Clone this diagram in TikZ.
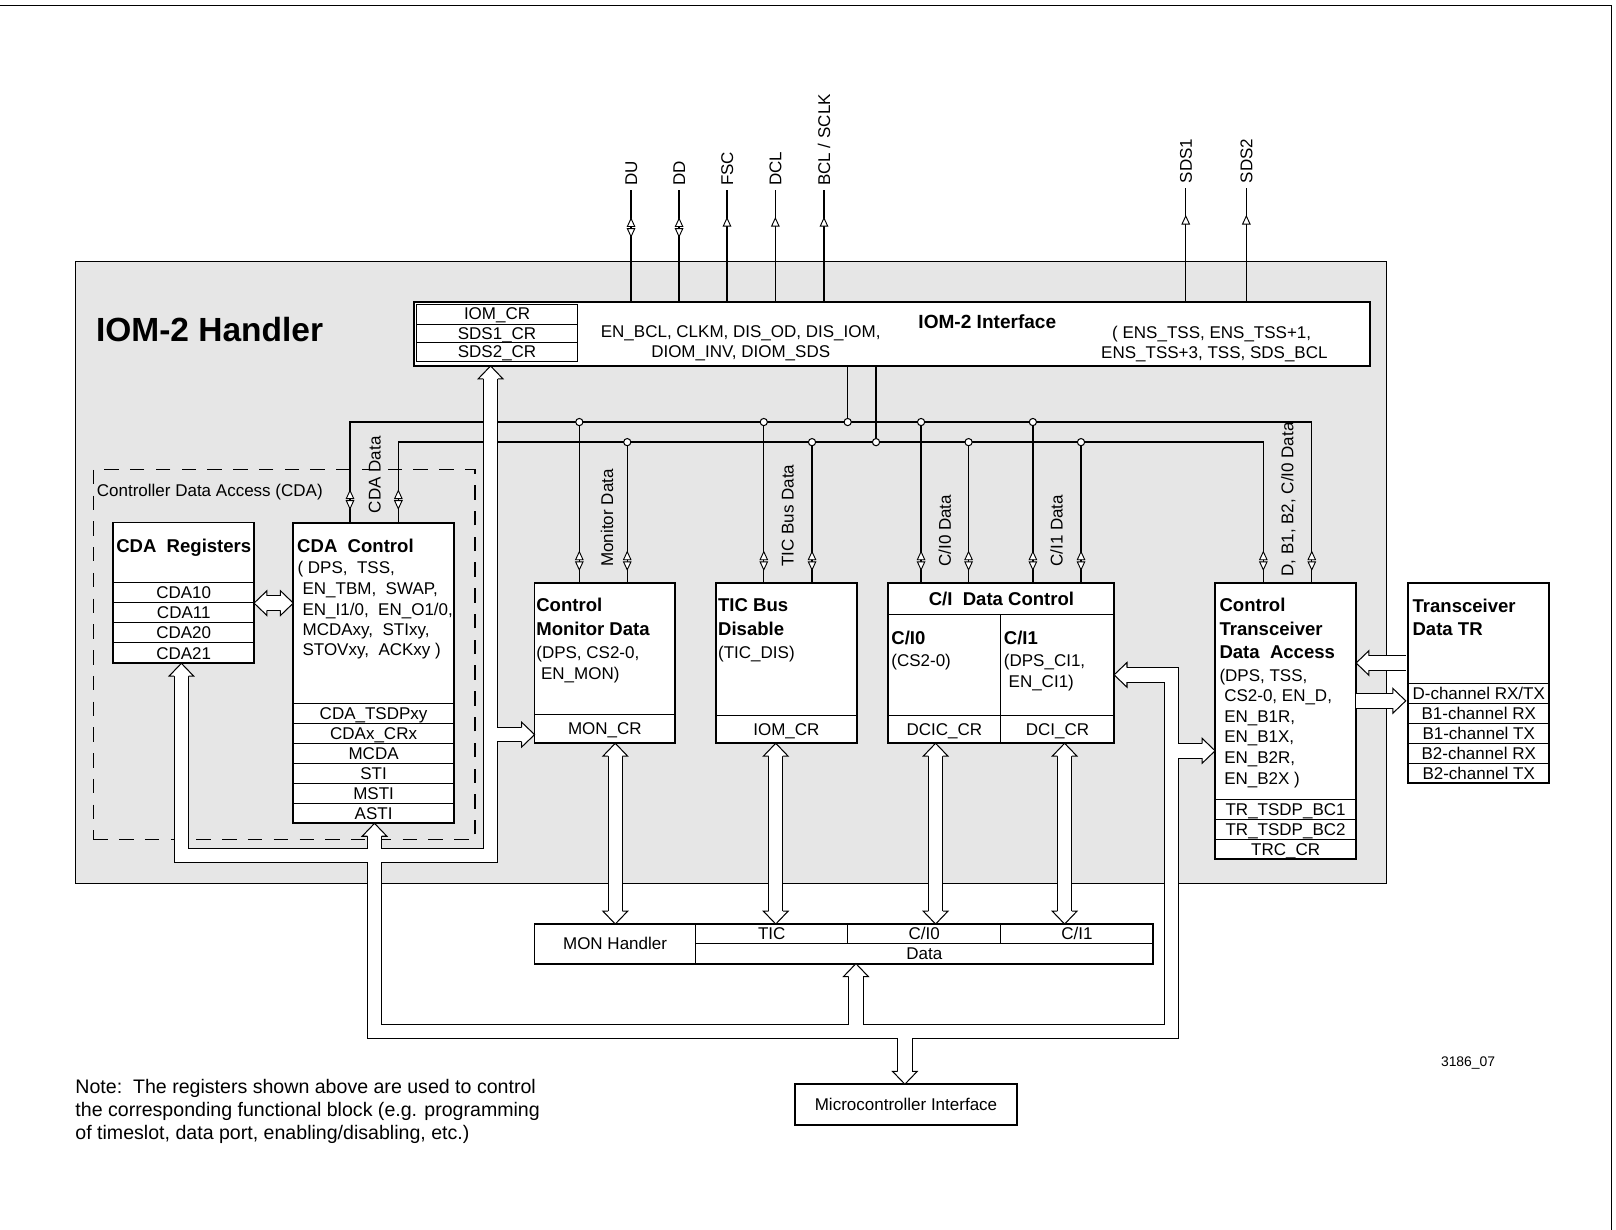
\documentclass[tikz,border=0pt]{standalone}
\usepackage{fontspec}
\setmainfont{Liberation Sans}
\definecolor{lgray}{RGB}{230,230,230}
\tikzset{
 txt/.style={font=\fontsize{16.5}{20}\selectfont, inner sep=0pt, anchor=base west},
 ctr/.style={font=\fontsize{16.5}{20}\selectfont, inner sep=0pt, anchor=base},
 ttl/.style={font=\fontsize{18}{22}\selectfont\bfseries, inner sep=0pt, anchor=base west},
 blk/.style={draw, fill=white, line width=1.7pt},
 cell/.style={line width=1pt},
 sig/.style={line width=1.3pt},
 mk/.style={draw, fill=white, line width=0.9pt, line join=miter},
 hollow/.style={draw=black, line width=1pt, double=white, double distance=13pt, line join=miter},
 hd/.style={draw=black, fill=white, line width=1pt, line join=miter},
 jn/.style={circle, draw, fill=white, line width=1pt, inner sep=0pt, minimum size=7pt},
}
\newcommand\bx[6]{%
 \pgfmathsetmacro\myBW{#4-#2}\pgfmathsetmacro\myBH{#5-#3}%
 \pgfmathsetmacro\myCX{(#2+#4)/2}\pgfmathsetmacro\myCY{(#3+#5)/2}%
 \node[#6, inner sep=0pt, outer sep=0pt, minimum width=\myBW pt, minimum height=\myBH pt] (#1) at (\myCX,\myCY) {};}
% hollow arrow heads (tip at #1,#2)
\newcommand\hU[2]{\filldraw[hd] ({#1-7},{#2+12.5}) -- ({#1-12},{#2+12.5}) -- ({#1},{#2}) -- ({#1+12},{#2+12.5}) -- ({#1+7},{#2+12.5});}
\newcommand\hD[2]{\filldraw[hd] ({#1-7},{#2-12.5}) -- ({#1-12},{#2-12.5}) -- ({#1},{#2}) -- ({#1+12},{#2-12.5}) -- ({#1+7},{#2-12.5});}
\newcommand\hL[2]{\filldraw[hd] ({#1+12.5},{#2-7}) -- ({#1+12.5},{#2-12}) -- ({#1},{#2}) -- ({#1+12.5},{#2+12}) -- ({#1+12.5},{#2+7});}
\newcommand\hR[2]{\filldraw[hd] ({#1-12.5},{#2-7}) -- ({#1-12.5},{#2-12}) -- ({#1},{#2}) -- ({#1-12.5},{#2+12}) -- ({#1-12.5},{#2+7});}
% small markers on thin lines
\newcommand\mU[2]{\filldraw[mk] ({#1},{#2}) -- ({#1-3.6},{#2+7.8}) -- ({#1+3.6},{#2+7.8}) -- cycle;}
\newcommand\mD[2]{\filldraw[mk] ({#1},{#2}) -- ({#1-3.6},{#2-7.8}) -- ({#1+3.6},{#2-7.8}) -- cycle;}
\newcommand\mUD[2]{\mU{#1}{#2}\mD{#1}{#2+17.6}}
\begin{document}
\begin{tikzpicture}[x=1pt,y=-1pt]
\useasboundingbox (0,0) rectangle (1568,1193);
\draw[line width=1pt] (0,5) -- (1564,5) -- (1564,1193);
% handler
\bx{hand}{73}{254}{1345}{857}{draw, fill=lgray, line width=1.3pt}
\node[font=\fontsize{32.5}{38}\selectfont\bfseries, inner sep=0pt, anchor=base west] (title) at (93,331.6) {IOM-2 Handler};
\bx{cda}{90.6}{455.4}{460.9}{814.4}{draw, line width=1.5pt, dash pattern=on 14pt off 11pt}
\node[txt] (cdatxt) at (93.8,482) {Controller Data Access (CDA)};
% IOM-2 interface
\bx{iface}{401.5}{293.3}{1329.3}{355.1}{blk, line width=2.2pt}
\bx{ifreg}{404}{295.5}{560.5}{351}{draw, fill=white, line width=1pt}
\draw[cell] (404,314.4) -- (560.5,314.4) (404,332) -- (560.5,332);
\node[ctr] (r1) at (482.3,309.9) {IOM\_CR};
\node[ctr] (r2) at (482.3,329.3) {SDS1\_CR};
\node[ctr] (r3) at (482.3,346.5) {SDS2\_CR};
\node[ctr] (if1) at (718.7,327.7) {EN\_BCL, CLKM, DIS\_OD, DIS\_IOM,};
\node[ctr] (if2) at (718.7,347.1) {DIOM\_INV, DIOM\_SDS};
\node[font=\fontsize{18.5}{22}\selectfont\bfseries, inner sep=0pt, anchor=base] (ift) at (958,318.6) {IOM-2 Interface};
\node[ctr] (if3) at (1175.7,328.4) {( ENS\_TSS, ENS\_TSS+1,};
\node[ctr] (if4) at (1178.3,347.8) {ENS\_TSS+3, TSS, SDS\_BCL};
% CDA registers
\bx{cdar}{110}{507}{246.5}{643.6}{blk}
\draw[cell] (110,565.4) -- (246.5,565.4) (110,584.8) -- (246.5,584.8) (110,604.2) -- (246.5,604.2) (110,623.6) -- (246.5,623.6);
\node[ttl] (cdart) at (112.6,536.2) {CDA\ \ Registers};
\node[ctr] (c1) at (178.3,581) {CDA10};
\node[ctr] (c2) at (178.3,600.4) {CDA11};
\node[ctr] (c3) at (178.3,619.8) {CDA20};
\node[ctr] (c4) at (178.3,639.5) {CDA21};
% CDA control
\bx{cdac}{284.6}{507.2}{440.5}{798.9}{blk}
\draw[cell] (284.6,682.4) -- (440.5,682.4) (284.6,701.8) -- (440.5,701.8) (284.6,721.2) -- (440.5,721.2)
 (284.6,740.7) -- (440.5,740.7) (284.6,760.1) -- (440.5,760.1) (284.6,779.5) -- (440.5,779.5);
\node[ttl] (cdact) at (288.2,536.2) {CDA\ \ Control};
\node[txt] (cc1) at (288.5,556.7) {( DPS,\ \ TSS,};
\node[txt] (cc2) at (293.4,576.8) {EN\_TBM,\ \ SWAP,};
\node[txt] (cc3) at (293.4,596.9) {EN\_I1/0,\ \ EN\_O1/0,};
\node[txt] (cc4) at (293.4,616.2) {MCDAxy,\ \ STIxy,};
\node[txt] (cc5) at (293.4,636.3) {STOVxy,\ \ ACKxy )};
\node[ctr] (cr1) at (362.5,698) {CDA\_TSDPxy};
\node[ctr] (cr2) at (362.5,717.4) {CDAx\_CRx};
\node[ctr] (cr3) at (362.5,736.9) {MCDA};
\node[ctr] (cr4) at (362.5,756.3) {STI};
\node[ctr] (cr5) at (362.5,775.7) {MSTI};
\node[ctr] (cr6) at (362.5,795.1) {ASTI};
% Control Monitor Data
\bx{mon}{518.7}{565.4}{655}{721.2}{blk}
\draw[cell] (518.7,693.1) -- (655,693.1);
\node[ttl] (mt1) at (520.2,593.4) {Control};
\node[ttl] (mt2) at (520.2,617) {Monitor Data};
\node[txt] (mt3) at (520.2,639.2) {(DPS, CS2-0,};
\node[txt] (mt4) at (524.8,659.3) {EN\_MON)};
\node[ctr] (mt5) at (586.9,713.1) {MON\_CR};
% TIC bus disable
\bx{tic}{694.7}{565.4}{831.4}{721.2}{blk}
\draw[cell] (694.7,694.7) -- (831.4,694.7);
\node[ttl] (tt1) at (696.6,593.4) {TIC Bus};
\node[ttl] (tt2) at (696.6,617) {Disable};
\node[txt] (tt3) at (696.6,639.2) {(TIC\_DIS)};
\node[ctr] (tt4) at (763,713.4) {IOM\_CR};
% C/I data control
\bx{ci}{861.8}{565.4}{1081}{721.2}{blk}
\draw[cell] (861.8,596.1) -- (1081,596.1) (971,596.1) -- (971,721.2) (861.8,693.8) -- (1081,693.8);
\node[font=\fontsize{18}{22}\selectfont\bfseries, inner sep=0pt, anchor=base] (cit) at (971.7,587.6) {C/I\ \ Data Control};
\node[ttl] (ci0t) at (864.7,625) {C/I0};
\node[txt] (ci0a) at (864.7,646.3) {(CS2-0)};
\node[ttl] (ci1t) at (973.9,625) {C/I1};
\node[txt] (ci1a) at (973.9,646.3) {(DPS\_CI1,};
\node[txt] (ci1b) at (978.5,666.7) {EN\_CI1)};
\node[ctr] (ci0r) at (916.4,713.4) {DCIC\_CR};
\node[ctr] (ci1r) at (1026,713.4) {DCI\_CR};
% Control Transceiver Data Access
\bx{ctda}{1179}{565.4}{1315.8}{833.8}{blk}
\draw[cell] (1179,775.6) -- (1315.8,775.6) (1179,795) -- (1315.8,795) (1179,814.4) -- (1315.8,814.4);
\node[ttl] (ct1) at (1183.1,593.4) {Control};
\node[ttl] (ct2) at (1183.1,617) {Transceiver};
\node[ttl] (ct3) at (1183.1,639.4) {Data\ \ Access};
\node[txt] (ct4) at (1183.1,661.2) {(DPS, TSS,};
\node[txt] (ct5) at (1187.7,680.6) {CS2-0, EN\_D,};
\node[txt] (ct6) at (1187.7,700.6) {EN\_B1R,};
\node[txt] (ct7) at (1187.7,720.7) {EN\_B1X,};
\node[txt] (ct8) at (1187.7,740.7) {EN\_B2R,};
\node[txt] (ct9) at (1187.7,760.8) {EN\_B2X )};
\node[ctr] (ctr1) at (1247.4,791.2) {TR\_TSDP\_BC1};
\node[ctr] (ctr2) at (1247.4,810.6) {TR\_TSDP\_BC2};
\node[ctr] (ctr3) at (1247.4,830) {TRC\_CR};
% Transceiver Data TR
\bx{tr}{1366.5}{565.4}{1503}{760}{blk}
\draw[cell] (1366.5,663) -- (1503,663) (1366.5,682.5) -- (1503,682.5) (1366.5,701.8) -- (1503,701.8)
 (1366.5,721.2) -- (1503,721.2) (1366.5,740.6) -- (1503,740.6);
\node[ttl] (trt1) at (1370.4,594.4) {Transceiver};
\node[ttl] (trt2) at (1370.4,617) {Data TR};
\node[ctr] (tr1) at (1434.8,678.7) {D-channel RX/TX};
\node[ctr] (tr2) at (1434.8,698) {B1-channel RX};
\node[ctr] (tr3) at (1434.8,717.4) {B1-channel TX};
\node[ctr] (tr4) at (1434.8,736.8) {B2-channel RX};
\node[ctr] (tr5) at (1434.8,756.2) {B2-channel TX};
% MON handler
\bx{monh}{518.6}{896.6}{1118.8}{935}{blk}
\draw[cell] (674.9,896.6) -- (674.9,935) (674.9,915.7) -- (1118.8,915.7) (822.6,896.6) -- (822.6,915.7) (971,896.6) -- (971,915.7);
\node[ctr] (mh1) at (596.8,921.2) {MON Handler};
\node[ctr] (mh2) at (748.8,911.9) {TIC};
\node[ctr] (mh3) at (896.8,911.9) {C/I0};
\node[ctr] (mh4) at (1044.9,911.9) {C/I1};
\node[ctr] (mh5) at (896.8,931) {Data};
% microcontroller interface
\bx{mc}{771.4}{1052}{986.8}{1091.6}{blk}
\node[ctr] (mct) at (879.1,1077.7) {Microcontroller Interface};
% top signals
\draw[sig] (612.3,184.4) -- (612.3,0 |- iface.north);
\draw[sig] (658.9,184.4) -- (658.9,0 |- iface.north);
\draw[sig] (705.4,184.4) -- (705.4,0 |- iface.north);
\draw[sig] (752.3,184.4) -- (752.3,0 |- iface.north);
\draw[sig] (799.5,184.4) -- (799.5,0 |- iface.north);
\draw[sig] (1150.5,182.7) -- (1150.5,0 |- iface.north);
\draw[sig] (1209.3,182.7) -- (1209.3,0 |- iface.north);
\mUD{612.3}{212}\mUD{658.9}{212}
\mU{705.4}{211.6}\mU{752.3}{211.6}\mU{799.5}{211.6}
\mU{1150.5}{209.6}\mU{1209.3}{209.6}
\node[txt, rotate=90] (sDU) at (618.2,180.5) {DU};
\node[txt, rotate=90] (sDD) at (664.8,180.5) {DD};
\node[txt, rotate=90] (sFSC) at (711.3,180.5) {FSC};
\node[txt, rotate=90] (sDCL) at (758.2,180.5) {DCL};
\node[txt, rotate=90] (sBCL) at (805.4,180.5) {BCL / SCLK};
\node[txt, rotate=90] (sS1) at (1156.4,178) {SDS1};
\node[txt, rotate=90] (sS2) at (1215.2,178) {SDS2};
% internal buses
\draw[sig] (822.5,0 |- iface.south) -- (822.5,409.5);
\draw[sig] (850,0 |- iface.south) -- (850,429);
\draw[sig] (339.6,0 |- cdac.north) -- (339.6,409.5) -- (1272.8,409.5) -- (1272.8,0 |- ctda.north);
\draw[sig] (386.5,0 |- cdac.north) -- (386.5,429) -- (1225.8,429) -- (1225.8,0 |- ctda.north);
\draw[sig] (562.1,409.5) -- (562.1,0 |- mon.north) (608.6,429) -- (608.6,0 |- mon.north);
\draw[sig] (741.1,409.5) -- (741.1,0 |- tic.north) (787.9,429) -- (787.9,0 |- tic.north);
\draw[sig] (893.7,409.5) -- (893.7,0 |- ci.north) (939.8,429) -- (939.8,0 |- ci.north);
\draw[sig] (1002.2,409.5) -- (1002.2,0 |- ci.north) (1048.9,429) -- (1048.9,0 |- ci.north);
\mUD{339.6}{476}\mUD{386.5}{476}
\mUD{562.1}{535.3}\mUD{608.6}{535.3}
\mUD{741.1}{535.3}\mUD{787.9}{535.3}
\mUD{893.7}{535.3}\mUD{939.8}{535.3}
\mUD{1002.2}{535.3}\mUD{1048.9}{535.3}
\mUD{1225.8}{535.3}\mUD{1272.8}{535.3}
\node[jn] (j1) at (562.1,409.5) {};
\node[jn] (j2) at (741.1,409.5) {};
\node[jn] (j3) at (822.5,409.5) {};
\node[jn] (j4) at (893.7,409.5) {};
\node[jn] (j5) at (1002.2,409.5) {};
\node[jn] (j6) at (608.6,429) {};
\node[jn] (j7) at (787.9,429) {};
\node[jn] (j8) at (850,429) {};
\node[jn] (j9) at (939.8,429) {};
\node[jn] (j10) at (1048.9,429) {};
% hollow data paths
\draw[hollow] (176,655.1) -- (176,830) -- (476,830) -- (476,366.6)
 (476,712.8) -- (507.2,712.8)
 (363.4,810.4) -- (363.4,1001) -- (1136.5,1001) -- (1136.5,654.8) -- (1092.5,654.8)
 (830.5,1001) -- (830.5,946.5)
 (878,1001) -- (878,1040.5)
 (1136.5,728.5) -- (1167.5,728.5);
\hU{176}{643.6}\hU{476}{355.1}\hR{518.7}{712.8}\hU{363.4}{798.9}
\hL{1081}{654.8}\hU{830.5}{935}\hD{878}{1052}\hR{1179}{728.5}
\draw[hollow] (597,732.7) -- (597,885.1) (752.7,732.7) -- (752.7,885.1)
 (907.8,732.7) -- (907.8,885.1) (1033,732.7) -- (1033,885.1);
\hU{597}{721.2}\hD{597}{896.6}\hU{752.7}{721.2}\hD{752.7}{896.6}
\hU{907.8}{721.2}\hD{907.8}{896.6}\hU{1033}{721.2}\hD{1033}{896.6}
\draw[hollow] (258,585.2) -- (273.1,585.2);
\hL{246.5}{585.2}\hR{284.6}{585.2}
\draw[hollow] (1327.3,643.3) -- (1364,643.3) (1315.8,680) -- (1352.5,680);
\hL{1315.8}{643.3}\hR{1364}{680}
% rotated data labels
\node[txt, rotate=90] (lcda) at (369.4,498) {CDA Data};
\node[txt, rotate=90] (lmon) at (595,550) {Monitor Data};
\node[txt, rotate=90] (ltic) at (770,550) {TIC Bus Data};
\node[txt, rotate=90] (lci0) at (922.5,550) {C/I0 Data};
\node[txt, rotate=90] (lci1) at (1031,550) {C/I1 Data};
\node[txt, rotate=90] (lctda) at (1255,559.5) {D, B1, B2, C/I0 Data};
% notes
\node[font=\fontsize{19}{22.5}\selectfont, inner sep=0pt, anchor=base west] (n1) at (73,1061) {Note:\ \ The registers shown above are used to control};
\node[font=\fontsize{19}{22.5}\selectfont, inner sep=0pt, anchor=base west] (n2) at (73,1083.5) {the corresponding functional block (e.g. programming};
\node[font=\fontsize{19}{22.5}\selectfont, inner sep=0pt, anchor=base west] (n3) at (73,1106) {of timeslot, data port, enabling/disabling, etc.)};
\node[font=\fontsize{13.5}{16}\selectfont, inner sep=0pt, anchor=base west] (fig) at (1398,1035) {3186\_07};
\end{tikzpicture}
\end{document}
